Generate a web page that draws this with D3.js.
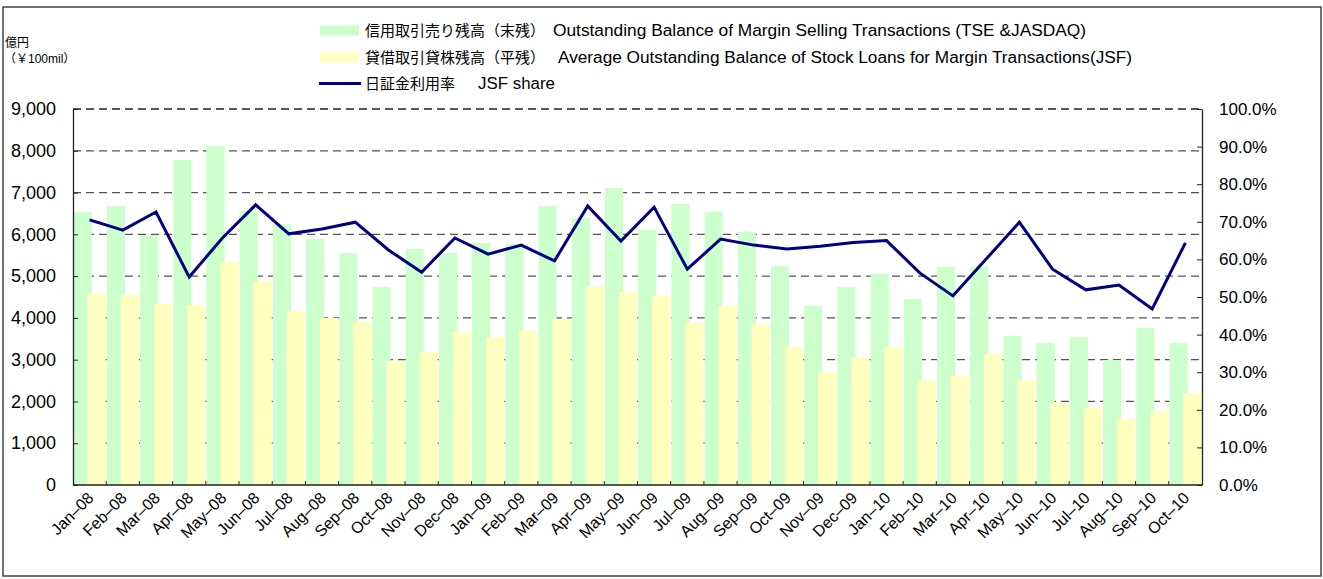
<!DOCTYPE html>
<html>
<head>
<meta charset="utf-8">
<script src="https://cdn.jsdelivr.net/npm/d3@7"></script>
<style>
  body { margin: 0; background: #fff; }
  svg { display: block; font-family: "Liberation Sans", Arial, "Noto Sans CJK JP", sans-serif; }
</style>
</head>
<body>
<svg id="chart" width="1323" height="579"></svg>
<script>
// months shown on the category axis
const months = [
  'Jan–08', 'Feb–08', 'Mar–08', 'Apr–08', 'May–08', 'Jun–08', 'Jul–08', 'Aug–08', 'Sep–08', 'Oct–08', 'Nov–08', 'Dec–08',
  'Jan–09', 'Feb–09', 'Mar–09', 'Apr–09', 'May–09', 'Jun–09', 'Jul–09', 'Aug–09', 'Sep–09', 'Oct–09', 'Nov–09', 'Dec–09',
  'Jan–10', 'Feb–10', 'Mar–10', 'Apr–10', 'May–10', 'Jun–10', 'Jul–10', 'Aug–10', 'Sep–10', 'Oct–10',
];

// 信用取引売り残高（末残） (¥100mil)
const marginSelling = [
  6540, 6680, 5980, 7780, 8120, 6560, 6250, 5890, 5550, 4740, 5650, 5550,
  5790, 5770, 6680, 6390, 7110, 6100, 6730, 6540, 6060, 5240, 4290, 4740,
  5050, 4450, 5220, 5230, 3570, 3400, 3540, 2990, 3760, 3400,
];

// 貸借取引貸株残高（平残） (¥100mil)
const stockLoans = [
  4600, 4550, 4340, 4300, 5340, 4880, 4170, 4000, 3910, 2970, 3180, 3660,
  3540, 3690, 3970, 4760, 4620, 4530, 3880, 4290, 3850, 3300, 2710, 3050,
  3300, 2510, 2610, 3140, 2510, 1960, 1840, 1580, 1770, 2200,
];

// 日証金利用率 JSF share
const jsfShare = [
  0.705, 0.678, 0.726, 0.553, 0.657, 0.745, 0.668, 0.681, 0.699, 0.625, 0.566, 0.657,
  0.614, 0.638, 0.596, 0.742, 0.649, 0.739, 0.574, 0.654, 0.638, 0.628, 0.635, 0.645,
  0.650, 0.564, 0.503, 0.601, 0.699, 0.574, 0.519, 0.532, 0.468, 0.644,
];

const leftTicks = d3.range(0, 9001, 1000);
const rightTicks = d3.range(0, 1.0001, 0.1);

const GREEN = '#ccffcc';
const YELLOW = '#ffffc0';
const NAVY = '#000080';

const svg = d3.select('#chart');
const plot = { left: 73, right: 1202, top: 109, bottom: 485 };

const x = d3.scaleBand().domain(months).range([plot.left, plot.right]);
const yL = d3.scaleLinear().domain([0, 9000]).range([plot.bottom, plot.top]);
const yR = d3.scaleLinear().domain([0, 1]).range([plot.bottom, plot.top]);
const bw = x.bandwidth();

// outer frame
svg.append('rect')
  .attr('x', 3).attr('y', 7).attr('width', 1318).attr('height', 569)
  .attr('fill', 'none').attr('stroke', '#444').attr('stroke-width', 1.5);

// dashed gridlines
svg.append('g')
  .selectAll('line')
  .data(leftTicks.filter((d) => d > 0))
  .join('line')
  .attr('x1', plot.left).attr('x2', plot.right)
  .attr('y1', (d) => yL(d)).attr('y2', (d) => yL(d))
  .attr('stroke', (d) => (d === 9000 ? '#222' : '#555'))
  .attr('stroke-width', 1.3)
  .attr('stroke-dasharray', '8,5');

// bars
const bars = svg.append('g');
bars.selectAll('rect.sell')
  .data(months)
  .join('rect')
  .attr('class', 'sell')
  .attr('x', (d) => x(d) + bw * 0.02)
  .attr('width', bw * 0.545)
  .attr('y', (d, i) => yL(marginSelling[i]))
  .attr('height', (d, i) => yL(0) - yL(marginSelling[i]))
  .attr('fill', GREEN);

bars.selectAll('rect.loan')
  .data(months)
  .join('rect')
  .attr('class', 'loan')
  .attr('x', (d) => x(d) + bw * 0.435)
  .attr('width', bw * 0.55)
  .attr('y', (d, i) => yL(stockLoans[i]))
  .attr('height', (d, i) => yL(0) - yL(stockLoans[i]))
  .attr('fill', YELLOW);

// share line
const line = d3.line()
  .x((d, i) => x(months[i]) + bw / 2)
  .y((d) => yR(d));

svg.append('path')
  .datum(jsfShare)
  .attr('d', line)
  .attr('fill', 'none')
  .attr('stroke', NAVY)
  .attr('stroke-width', 3)
  .attr('stroke-linejoin', 'miter');

// axes
const axisFont = (g, size) => g.selectAll('text').attr('font-size', size).attr('fill', '#000');

svg.append('g')
  .attr('transform', `translate(${plot.left},0)`)
  .call(d3.axisLeft(yL).tickValues(leftTicks).tickFormat(d3.format(',')).tickSizeInner(-5).tickSizeOuter(0).tickPadding(17))
  .call((g) => g.select('.domain').attr('stroke', '#222').attr('stroke-width', 1.3))
  .call((g) => g.selectAll('.tick line').attr('stroke', '#222'))
  .call((g) => axisFont(g, 18))
  .call((g) => g.attr('font-family', null));

svg.append('g')
  .attr('transform', `translate(${plot.right},0)`)
  .call(d3.axisRight(yR).tickValues(rightTicks).tickFormat(d3.format('.1%')).tickSizeInner(-5).tickSizeOuter(0).tickPadding(17))
  .call((g) => g.select('.domain').attr('stroke', '#222').attr('stroke-width', 1.3))
  .call((g) => g.selectAll('.tick line').attr('stroke', '#222'))
  .call((g) => axisFont(g, 17))
  .call((g) => g.attr('font-family', null));

// category axis: boundary ticks + rotated labels
const xAxis = svg.append('g').attr('transform', `translate(0,${plot.bottom})`);
xAxis.append('line')
  .attr('x1', plot.left).attr('x2', plot.right)
  .attr('stroke', '#222').attr('stroke-width', 1.5);
xAxis.selectAll('line.tick')
  .data(months.slice(1))
  .join('line')
  .attr('class', 'tick')
  .attr('x1', (d) => x(d)).attr('x2', (d) => x(d))
  .attr('y1', 0).attr('y2', -4)
  .attr('stroke', '#222');
xAxis.selectAll('text')
  .data(months)
  .join('text')
  .attr('transform', (d) => `translate(${x(d) + bw / 2 + 5},${14}) rotate(-45)`)
  .attr('text-anchor', 'end')
  .attr('font-size', 16)
  .text((d) => d);

// unit label
svg.append('text').attr('x', 5).attr('y', 47).attr('font-size', 12).text('億円');
svg.append('text').attr('x', 4).attr('y', 63).attr('font-size', 12).text('（￥100mil）');

// legend
const legend = svg.append('g').attr('transform', 'translate(320,0)');
const items = [
  { type: 'bar', color: GREEN, y: 30.5, jp: '信用取引売り残高（末残）', en: 'Outstanding Balance of Margin Selling Transactions (TSE  &JASDAQ)', ex: 233, w: 533 },
  { type: 'bar', color: YELLOW, y: 57.5, jp: '貸借取引貸株残高（平残）', en: 'Average Outstanding Balance of Stock Loans for Margin Transactions(JSF)', ex: 238, w: 574 },
  { type: 'line', color: NAVY, y: 83.5, jp: '日証金利用率', en: 'JSF share', ex: 158, w: 77 },
];
items.forEach((it) => {
  if (it.type === 'bar') {
    legend.append('rect').attr('x', 0).attr('y', it.y - 5).attr('width', 39).attr('height', 10).attr('fill', it.color);
  } else {
    legend.append('line').attr('x1', -1).attr('x2', 41).attr('y1', it.y).attr('y2', it.y)
      .attr('stroke', it.color).attr('stroke-width', 3);
  }
  const t = legend.append('text')
    .attr('y', it.y + 5.5)
    .attr('fill', '#000');
  t.append('tspan').attr('x', 45).attr('font-size', 15).text(it.jp);
  t.append('tspan')
    .attr('x', it.ex)
    .attr('font-size', 16)
    .attr('textLength', it.w)
    .attr('lengthAdjust', 'spacingAndGlyphs')
    .text(it.en);
});
</script>
</body>
</html>
